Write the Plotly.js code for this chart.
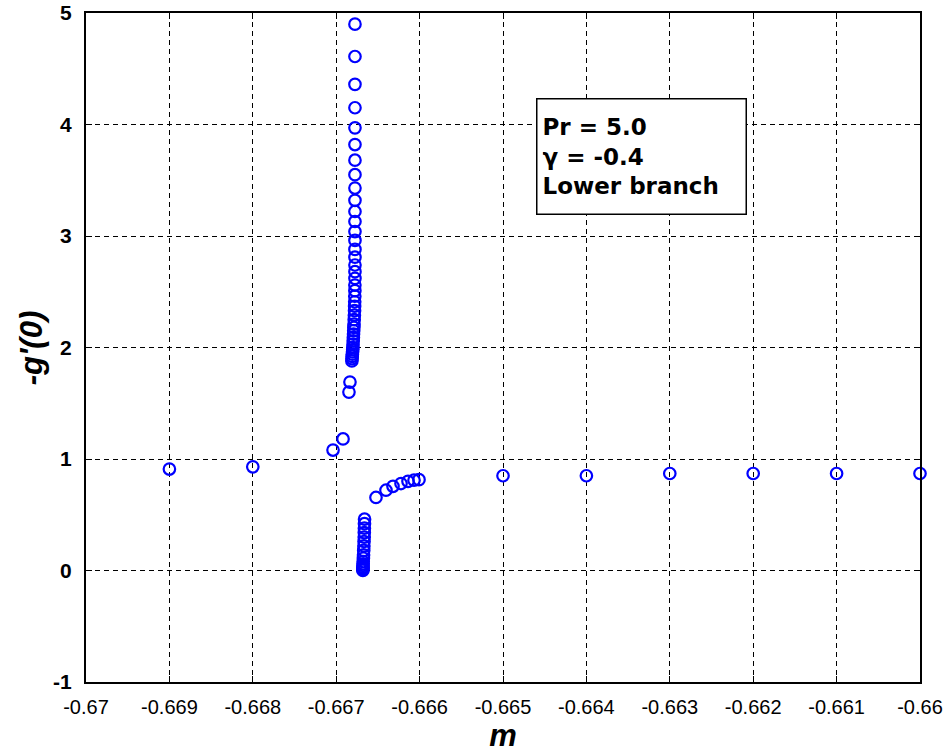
<!DOCTYPE html>
<html>
<head>
<meta charset="utf-8">
<script src="https://cdn.plot.ly/plotly-3.0.1.min.js"></script>
<style>html,body{margin:0;padding:0;background:#fff;}</style>
</head>
<body>
<div id="chart" style="width:943px;height:754px;"></div>
<script>
// m values (x) and -g'(0) values (y)
const mValues = [
  -0.669, -0.668,
  -0.667038, -0.666918, -0.666847, -0.666835,
  -0.666812, -0.666810, -0.666808, -0.666806, -0.666804, -0.666802, -0.666800,
  -0.666798, -0.666796, -0.666794, -0.666792, -0.666790, -0.666788, -0.666786,
  -0.666784, -0.666782, -0.666780, -0.666779, -0.666778, -0.666777, -0.666776,
  -0.666776, -0.666775, -0.666775, -0.666775, -0.666775, -0.666775, -0.666775,
  -0.666775, -0.666775, -0.666775, -0.666775, -0.666775, -0.666775, -0.666775,
  -0.666775, -0.666775, -0.666775, -0.666775, -0.666775, -0.666775,
  -0.666680, -0.666680, -0.666679, -0.666679, -0.666678, -0.666677, -0.666676,
  -0.666674, -0.666672, -0.666670, -0.666668, -0.666666, -0.666664, -0.666663,
  -0.666662, -0.666661, -0.666660,
  -0.666523, -0.666403, -0.666319, -0.666223, -0.666139, -0.666067, -0.666007,
  -0.665, -0.664, -0.663, -0.662, -0.661, -0.660
];
const gValues = [
  0.91, 0.93,
  1.08, 1.18, 1.60, 1.69,
  1.88, 1.90, 1.92, 1.94, 1.96, 1.98, 2.00,
  2.03, 2.06, 2.09, 2.12, 2.15, 2.18, 2.21,
  2.25, 2.29, 2.33, 2.37, 2.41, 2.46, 2.51,
  2.56, 2.62, 2.68, 2.74, 2.81, 2.88, 2.96,
  3.04, 3.13, 3.22, 3.32, 3.43, 3.55, 3.68,
  3.82, 3.97, 4.15, 4.36, 4.61, 4.90,
  0.00, 0.01, 0.02, 0.03, 0.045, 0.06, 0.08,
  0.11, 0.14, 0.18, 0.22, 0.26, 0.30, 0.34,
  0.38, 0.42, 0.46,
  0.655, 0.72, 0.755, 0.78, 0.80, 0.81, 0.815,
  0.85, 0.85, 0.87, 0.87, 0.87, 0.87
];
const xTickVals = [-0.67, -0.669, -0.668, -0.667, -0.666, -0.665, -0.664, -0.663, -0.662, -0.661, -0.66];
const xTickText = ["-0.67", "-0.669", "-0.668", "-0.667", "-0.666", "-0.665", "-0.664", "-0.663", "-0.662", "-0.661", "-0.66"];
const yTickVals = [-1, 0, 1, 2, 3, 4, 5];
const yTickText = ["-1", "0", "1", "2", "3", "4", "5"];
const yTitle = "-g'(0)";
const xTitle = "m";
const boxLines = ["Pr = 5.0", "γ = -0.4", "Lower branch"];

const trace = {
  x: mValues,
  y: gValues,
  type: 'scatter',
  mode: 'markers',
  cliponaxis: false,
  marker: {symbol: 'circle-open', size: 11.5, color: '#0000ff', line: {color: '#0000ff', width: 2.2}},
  hoverinfo: 'skip'
};

const axisCommon = {
  showline: true, linewidth: 2, linecolor: '#000', mirror: 'allticks',
  ticks: 'inside', ticklen: 6, tickwidth: 1, tickcolor: '#000',
  showgrid: true, gridcolor: '#000', gridwidth: 1, griddash: '5px,4px',
  zeroline: false, tickmode: 'array', ticklabeloverflow: 'allow', automargin: false
};

const layout = {
  width: 943, height: 754,
  margin: {l: 86, r: 23, t: 13, b: 72},
  paper_bgcolor: '#fff', plot_bgcolor: '#fff',
  showlegend: false,
  xaxis: Object.assign({}, axisCommon, {
    range: [-0.67, -0.6599999],
    tickvals: xTickVals, ticktext: xTickText,
    tickfont: {family: 'Arial, "Liberation Sans", sans-serif', size: 20, color: '#000'},
    ticklabelstandoff: 6,
    title: {text: '<b><i>' + xTitle + '</i></b>', font: {family: 'Arial, "Liberation Sans", sans-serif', size: 31, color: '#000'}, standoff: 6}
  }),
  yaxis: Object.assign({}, axisCommon, {
    range: [-1, 5],
    tickvals: yTickVals, ticktext: yTickText,
    tickfont: {family: 'Arial, "Liberation Sans", sans-serif', size: 21, color: '#000', weight: 'bold'},
    ticklabelstandoff: 8
  }),
  annotations: [{
    xref: 'paper', yref: 'paper', x: -0.065, y: 0.5, xanchor: 'center', yanchor: 'middle',
    text: '<b><i>' + yTitle + '</i></b>', textangle: -90, showarrow: false,
    font: {family: 'Arial, "Liberation Sans", sans-serif', size: 31, color: '#000'}
  }, {
    xref: 'paper', yref: 'paper', x: 0.5396, y: 0.873, xanchor: 'left', yanchor: 'top',
    text: boxLines.join('<br>'), align: 'left', valign: 'middle',
    showarrow: false, width: 198, height: 104, borderpad: 5,
    bordercolor: '#000', borderwidth: 1.5, bgcolor: '#fff',
    font: {family: '"DejaVu Sans", sans-serif', size: 23, color: '#000', weight: 'bold'}
  }]
};

Plotly.newPlot('chart', [trace], layout, {displayModeBar: false, staticPlot: true});
</script>
</body>
</html>
